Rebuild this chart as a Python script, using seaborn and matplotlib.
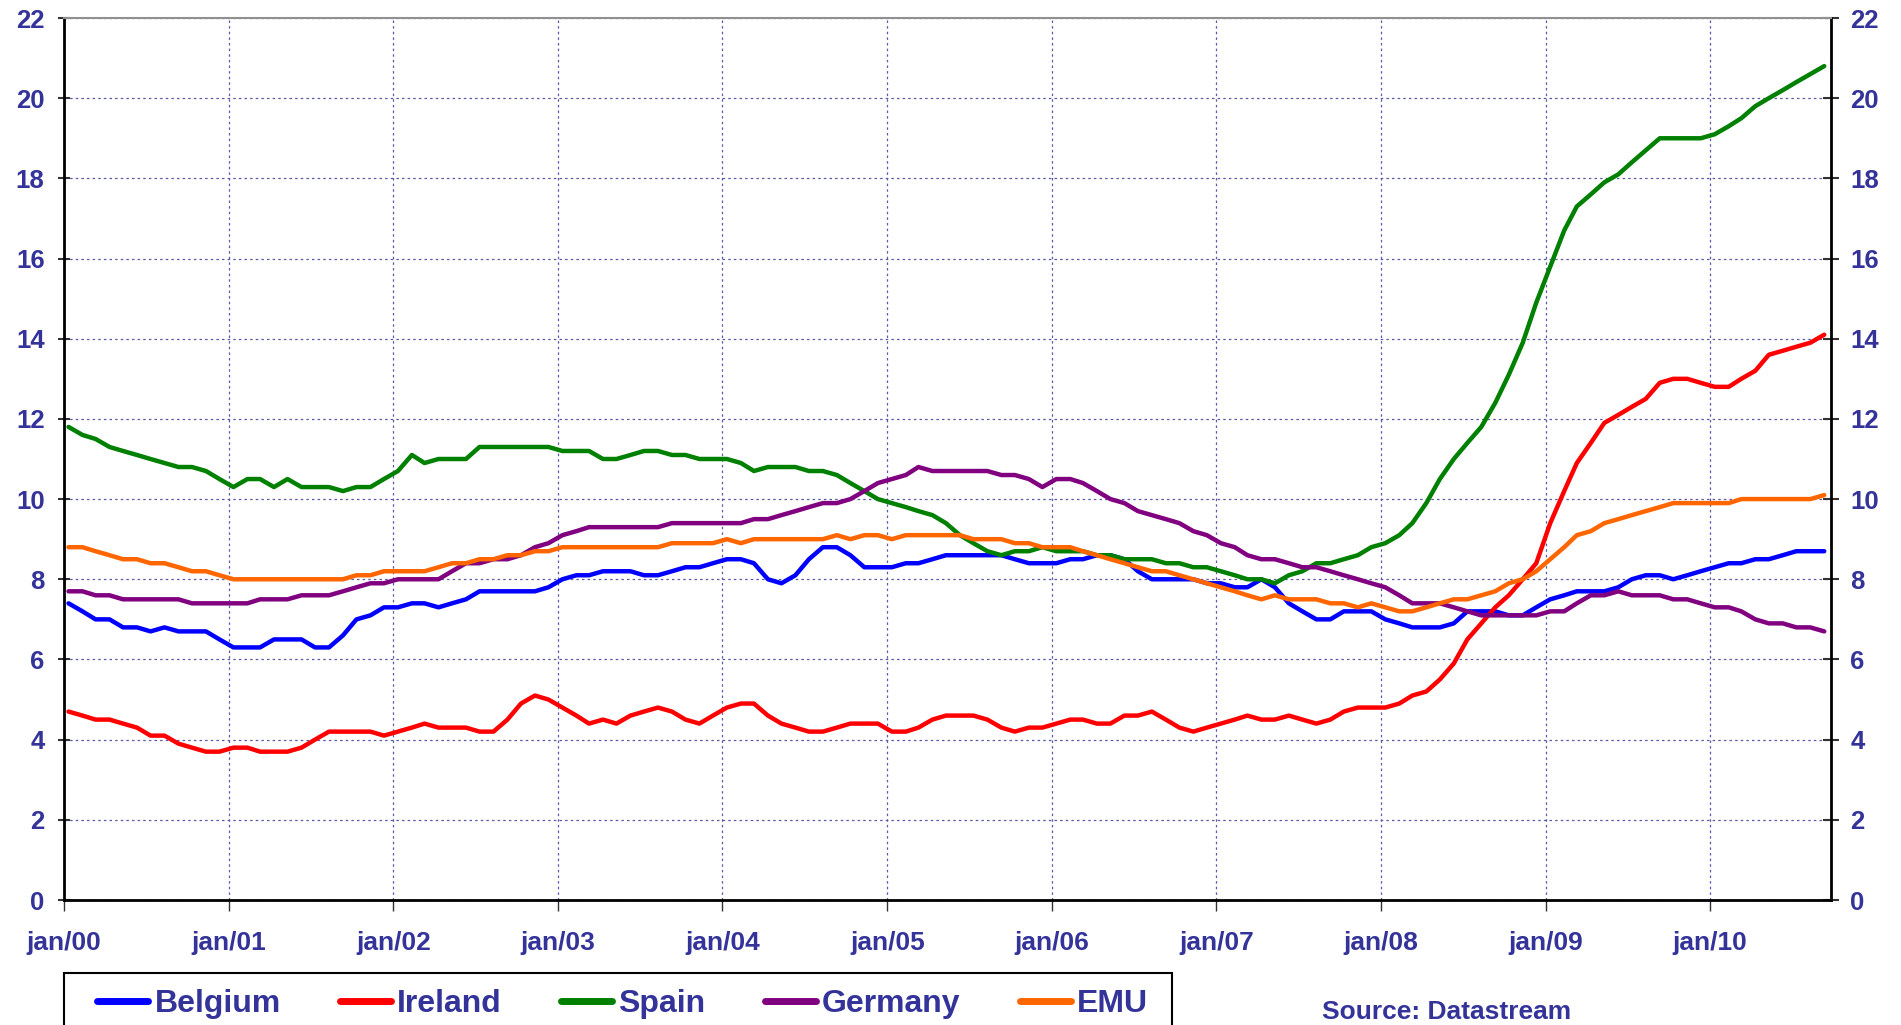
import matplotlib
matplotlib.use("Agg")
import matplotlib.pyplot as plt
import matplotlib.dates as mdates
from matplotlib.patches import Rectangle
import seaborn as sns
import pandas as pd

# monthly series, jan/00 .. sep/10
belgium = [7.4, 7.2, 7.0, 7.0, 6.8, 6.8, 6.7, 6.8, 6.7, 6.7, 6.7, 6.5, 6.3, 6.3, 6.3, 6.5, 6.5, 6.5, 6.3, 6.3, 6.6, 7.0, 7.1, 7.3, 7.3,
           7.4, 7.4, 7.3, 7.4, 7.5, 7.7, 7.7, 7.7, 7.7, 7.7, 7.8, 8.0, 8.1, 8.1, 8.2, 8.2, 8.2, 8.1, 8.1, 8.2, 8.3, 8.3, 8.4, 8.5,
           8.5, 8.4, 8.0, 7.9, 8.1, 8.5, 8.8, 8.8, 8.6, 8.3, 8.3, 8.3, 8.4, 8.4, 8.5, 8.6, 8.6, 8.6, 8.6, 8.6, 8.5, 8.4, 8.4, 8.4,
           8.5, 8.5, 8.6, 8.6, 8.5, 8.2, 8.0, 8.0, 8.0, 8.0, 7.9, 7.9, 7.8, 7.8, 8.0, 7.8, 7.4, 7.2, 7.0, 7.0, 7.2, 7.2, 7.2, 7.0,
           6.9, 6.8, 6.8, 6.8, 6.9, 7.2, 7.2, 7.2, 7.1, 7.1, 7.3, 7.5, 7.6, 7.7, 7.7, 7.7, 7.8, 8.0, 8.1, 8.1, 8.0, 8.1, 8.2, 8.3,
           8.4, 8.4, 8.5, 8.5, 8.6, 8.7, 8.7, 8.7]
ireland = [4.7, 4.6, 4.5, 4.5, 4.4, 4.3, 4.1, 4.1, 3.9, 3.8, 3.7, 3.7, 3.8, 3.8, 3.7, 3.7, 3.7, 3.8, 4.0, 4.2, 4.2, 4.2, 4.2, 4.1, 4.2,
           4.3, 4.4, 4.3, 4.3, 4.3, 4.2, 4.2, 4.5, 4.9, 5.1, 5.0, 4.8, 4.6, 4.4, 4.5, 4.4, 4.6, 4.7, 4.8, 4.7, 4.5, 4.4, 4.6, 4.8,
           4.9, 4.9, 4.6, 4.4, 4.3, 4.2, 4.2, 4.3, 4.4, 4.4, 4.4, 4.2, 4.2, 4.3, 4.5, 4.6, 4.6, 4.6, 4.5, 4.3, 4.2, 4.3, 4.3, 4.4,
           4.5, 4.5, 4.4, 4.4, 4.6, 4.6, 4.7, 4.5, 4.3, 4.2, 4.3, 4.4, 4.5, 4.6, 4.5, 4.5, 4.6, 4.5, 4.4, 4.5, 4.7, 4.8, 4.8, 4.8,
           4.9, 5.1, 5.2, 5.5, 5.9, 6.5, 6.9, 7.3, 7.6, 8.0, 8.4, 9.4, 10.2, 10.9, 11.4, 11.9, 12.1, 12.3, 12.5, 12.9, 13.0, 13.0,
           12.9, 12.8, 12.8, 13.0, 13.2, 13.6, 13.7, 13.8, 13.9, 14.1]
spain = [11.8, 11.6, 11.5, 11.3, 11.2, 11.1, 11.0, 10.9, 10.8, 10.8, 10.7, 10.5, 10.3, 10.5, 10.5, 10.3, 10.5, 10.3, 10.3, 10.3, 10.2, 10.3, 10.3, 10.5, 10.7,
         11.1, 10.9, 11.0, 11.0, 11.0, 11.3, 11.3, 11.3, 11.3, 11.3, 11.3, 11.2, 11.2, 11.2, 11.0, 11.0, 11.1, 11.2, 11.2, 11.1, 11.1, 11.0, 11.0, 11.0,
         10.9, 10.7, 10.8, 10.8, 10.8, 10.7, 10.7, 10.6, 10.4, 10.2, 10.0, 9.9, 9.8, 9.7, 9.6, 9.4, 9.1, 8.9, 8.7, 8.6, 8.7, 8.7, 8.8, 8.7,
         8.7, 8.7, 8.6, 8.6, 8.5, 8.5, 8.5, 8.4, 8.4, 8.3, 8.3, 8.2, 8.1, 8.0, 8.0, 7.9, 8.1, 8.2, 8.4, 8.4, 8.5, 8.6, 8.8, 8.9,
         9.1, 9.4, 9.9, 10.5, 11.0, 11.4, 11.8, 12.4, 13.1, 13.9, 14.9, 15.8, 16.7, 17.3, 17.6, 17.9, 18.1, 18.4, 18.7, 19.0,
         19.0, 19.0, 19.0, 19.1, 19.3, 19.5, 19.8, 20.0, 20.2, 20.4, 20.6, 20.8]
germany = [7.7, 7.7, 7.6, 7.6, 7.5, 7.5, 7.5, 7.5, 7.5, 7.4, 7.4, 7.4, 7.4, 7.4, 7.5, 7.5, 7.5, 7.6, 7.6, 7.6, 7.7, 7.8, 7.9, 7.9, 8.0,
           8.0, 8.0, 8.0, 8.2, 8.4, 8.4, 8.5, 8.5, 8.6, 8.8, 8.9, 9.1, 9.2, 9.3, 9.3, 9.3, 9.3, 9.3, 9.3, 9.4, 9.4, 9.4, 9.4, 9.4,
           9.4, 9.5, 9.5, 9.6, 9.7, 9.8, 9.9, 9.9, 10.0, 10.2, 10.4, 10.5, 10.6, 10.8, 10.7, 10.7, 10.7, 10.7, 10.7, 10.6, 10.6, 10.5, 10.3, 10.5,
           10.5, 10.4, 10.2, 10.0, 9.9, 9.7, 9.6, 9.5, 9.4, 9.2, 9.1, 8.9, 8.8, 8.6, 8.5, 8.5, 8.4, 8.3, 8.3, 8.2, 8.1, 8.0, 7.9, 7.8,
           7.6, 7.4, 7.4, 7.4, 7.3, 7.2, 7.1, 7.1, 7.1, 7.1, 7.1, 7.2, 7.2, 7.4, 7.6, 7.6, 7.7, 7.6, 7.6, 7.6, 7.5, 7.5, 7.4, 7.3,
           7.3, 7.2, 7.0, 6.9, 6.9, 6.8, 6.8, 6.7]
emu = [8.8, 8.8, 8.7, 8.6, 8.5, 8.5, 8.4, 8.4, 8.3, 8.2, 8.2, 8.1, 8.0, 8.0, 8.0, 8.0, 8.0, 8.0, 8.0, 8.0, 8.0, 8.1, 8.1, 8.2, 8.2,
       8.2, 8.2, 8.3, 8.4, 8.4, 8.5, 8.5, 8.6, 8.6, 8.7, 8.7, 8.8, 8.8, 8.8, 8.8, 8.8, 8.8, 8.8, 8.8, 8.9, 8.9, 8.9, 8.9, 9.0,
       8.9, 9.0, 9.0, 9.0, 9.0, 9.0, 9.0, 9.1, 9.0, 9.1, 9.1, 9.0, 9.1, 9.1, 9.1, 9.1, 9.1, 9.0, 9.0, 9.0, 8.9, 8.9, 8.8, 8.8,
       8.8, 8.7, 8.6, 8.5, 8.4, 8.3, 8.2, 8.2, 8.1, 8.0, 7.9, 7.8, 7.7, 7.6, 7.5, 7.6, 7.5, 7.5, 7.5, 7.4, 7.4, 7.3, 7.4, 7.3,
       7.2, 7.2, 7.3, 7.4, 7.5, 7.5, 7.6, 7.7, 7.9, 8.0, 8.2, 8.5, 8.8, 9.1, 9.2, 9.4, 9.5, 9.6, 9.7, 9.8, 9.9, 9.9, 9.9, 9.9,
       9.9, 10.0, 10.0, 10.0, 10.0, 10.0, 10.0, 10.1]

countries = ['Belgium', 'Ireland', 'Spain', 'Germany', 'EMU']
colors = ['#0000FF', '#FF0000', '#008000', '#800080', '#FF6600']
yticks = list(range(0, 23, 2))

dates = pd.date_range('2000-01-01', periods=len(belgium), freq='MS') + pd.Timedelta(days=10)
wide = pd.DataFrame({'date': dates, 'Belgium': belgium, 'Ireland': ireland,
                     'Spain': spain, 'Germany': germany, 'EMU': emu})
df = wide.melt(id_vars='date', var_name='country', value_name='rate')

sns.set_style('white')
plt.rcParams['font.family'] = ['Liberation Sans', 'DejaVu Sans']
plt.rcParams['font.weight'] = 'bold'
txt = '#333399'

W, H = 1901, 1025
fig = plt.figure(figsize=(W / 100, H / 100), dpi=100)
ax = fig.add_axes([64 / W, 1 - 900 / H, (1831 - 64) / W, (900 - 18) / H])

sns.lineplot(data=df, x='date', y='rate', hue='country', hue_order=countries,
             palette=dict(zip(countries, colors)), linewidth=3.2, ax=ax, legend=False)

ax.set_ylim(0, 22)
ax.set_xlim(pd.Timestamp('2000-01-01'), pd.Timestamp('2010-09-26'))
ax.set_yticks(yticks)
ax.xaxis.set_major_locator(mdates.YearLocator())
ax.xaxis.set_major_formatter(mdates.DateFormatter('jan/%y'))
ax.set_xlabel('')
ax.set_ylabel('')

ax.grid(True, linestyle=(0, (2, 2.5)), color='#5a5aa8', linewidth=0.9)
for side in ['left', 'right', 'bottom']:
    ax.spines[side].set_color('black')
    ax.spines[side].set_linewidth(2)
ax.spines['top'].set_color('#909090')
ax.spines['top'].set_linewidth(1.5)

ax.tick_params(axis='y', left=True, right=True, labelright=True, labelsize=18.5,
               labelcolor=txt, length=7, width=1.5, pad=8, color='#333333')
ax.tick_params(axis='y', which='major', right=True, direction='inout', length=12)
ax.tick_params(axis='x', bottom=True, labelsize=19, labelcolor=txt, length=8, width=1,
               pad=14, color='#333333', direction='out')
for lab in ax.get_xticklabels() + ax.get_yticklabels():
    lab.set_fontweight('bold')
for t in ax.yaxis.get_major_ticks():
    t.label2.set_fontweight('bold')
    t.label2.set_color(txt)
    t.tick1line.set_markersize(8)

# legend frame runs past the bottom edge in the original
fig.patches.append(Rectangle((64 / W, 1 - 1045 / H), (1172 - 64) / W, (1045 - 973) / H,
                             transform=fig.transFigure, facecolor='white',
                             edgecolor='black', linewidth=1.5, zorder=1))
handles = [plt.Line2D([], [], color=c, linewidth=5, solid_capstyle='round') for c in colors]
leg = fig.legend(handles, countries, loc='upper left', ncol=5,
                 bbox_to_anchor=(88 / W, 1 - 980 / H), borderaxespad=0, frameon=False,
                 prop={'family': 'Liberation Sans', 'weight': 'bold', 'size': 23},
                 handlelength=1.6, handletextpad=0.2, columnspacing=1.85, borderpad=0.28)
leg.set_zorder(2)
for t in leg.get_texts():
    t.set_color(txt)

fig.text(1322 / W, 1 - 1012 / H, 'Source: Datastream', color=txt, fontsize=19,
         fontweight='bold', ha='left', va='center')

fig.savefig('out.png', dpi=100)
